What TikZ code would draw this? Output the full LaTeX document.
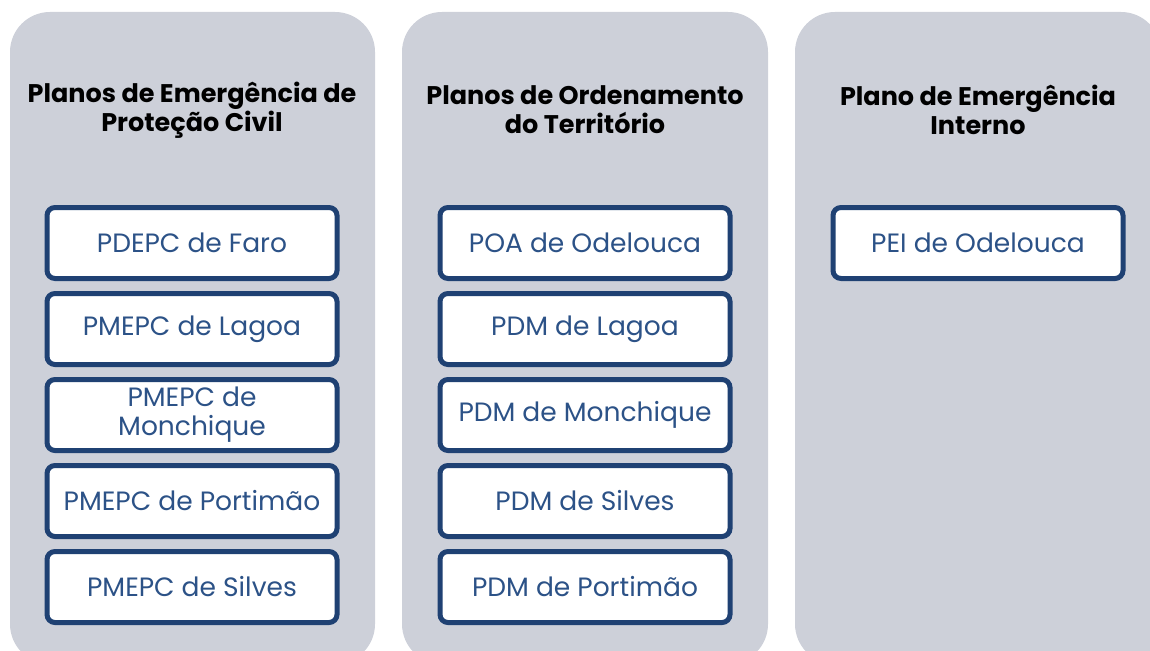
\documentclass[tikz,border=0pt]{standalone}
\usepackage{fontspec}
\setmainfont{Poppins}
\usetikzlibrary{positioning}
\definecolor{panelgray}{RGB}{205,208,217}
\definecolor{planblue}{RGB}{31,65,115}
\definecolor{plantext}{RGB}{44,82,135}
\tikzset{
  panel/.style={fill=panelgray, rounded corners=40pt},
  heading/.style={font=\fontsize{25.5}{29}\selectfont\bfseries, align=center, text=black},
  planbox/.style={draw=planblue, line width=5pt, fill=white, rounded corners=8pt,
    minimum width=290pt, minimum height=71pt, align=center, text=plantext,
    font=\fontsize{26.5}{30}\selectfont, inner sep=2pt},
}
\begin{document}
\begin{tikzpicture}[x=1pt, y=-1pt, node distance=10pt]
  \useasboundingbox (0,0) rectangle (1150,650);
  \clip (0,0) rectangle (1150,650);
  \fill [panel] (10,12) rectangle (375,664);
  \fill [panel] (402,12) rectangle (768,664);
  \fill [panel] (795,12) rectangle (1161,664);
  % headings
  \node [heading] (civil) at (192,110) {Planos de Emergência de\\Proteção Civil};
  \node [heading] (territ) at (585,110) {Planos de Ordenamento\\do Território};
  \node [heading] (interno) at (978,110) {Plano de Emergência\\Interno};
  % civil protection plans
  \node [planbox] (faro) at (192,243) {PDEPC de Faro};
  \node [planbox, below=of faro] (lagoa) {PMEPC de Lagoa};
  \node [planbox, below=of lagoa, font=\fontsize{26.5}{29}\selectfont] (monch) {PMEPC de\\Monchique};
  \node [planbox, below=of monch] (portim) {PMEPC de Portimão};
  \node [planbox, below=of portim] (silves) {PMEPC de Silves};
  % land use plans
  \node [planbox] (poa) at (585,243) {POA de Odelouca};
  \node [planbox, below=of poa] (pdmlag) {PDM de Lagoa};
  \node [planbox, below=of pdmlag] (pdmmon) {PDM de Monchique};
  \node [planbox, below=of pdmmon] (pdmsil) {PDM de Silves};
  \node [planbox, below=of pdmsil] (pdmpor) {PDM de Portimão};
  % internal plan
  \node [planbox] (pei) at (978,243) {PEI de Odelouca};
\end{tikzpicture}
\end{document}
